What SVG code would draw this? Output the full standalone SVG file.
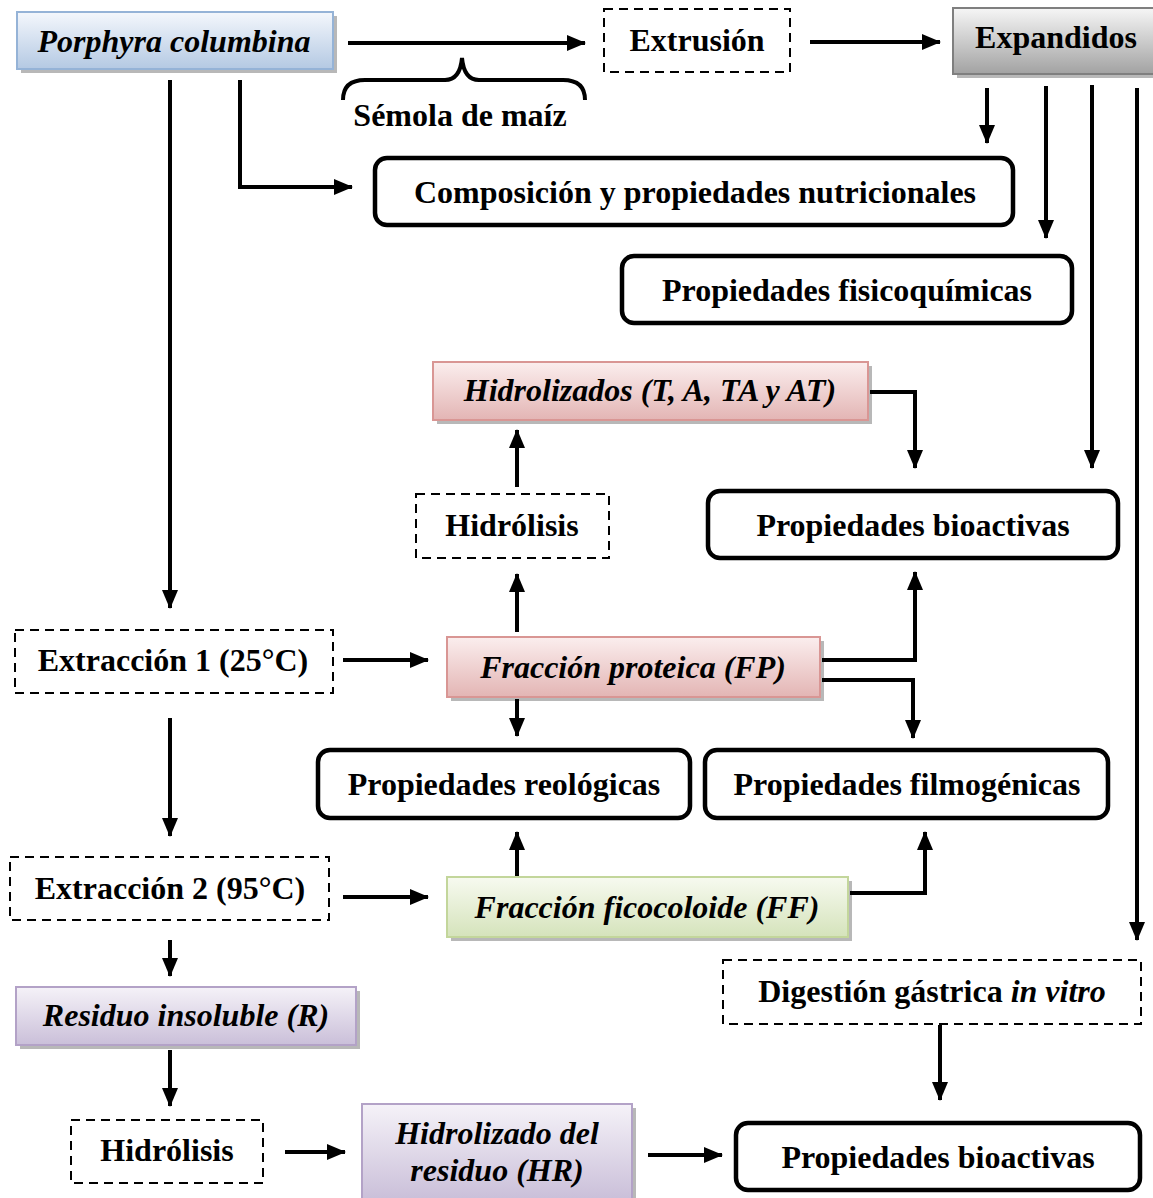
<svg xmlns="http://www.w3.org/2000/svg" width="1153" height="1198" viewBox="0 0 1153 1198">
<style>
text{font-family:"Liberation Serif","Times New Roman",serif;font-weight:bold;font-size:32px;fill:#000;text-anchor:middle}
.it{font-style:italic}
.dash{fill:#fff;stroke:#000;stroke-width:2;stroke-dasharray:9,6}
.round{fill:#fff;stroke:#000;stroke-width:4.5}
.c{fill:none;stroke:#000;stroke-width:4}
.sh{fill:#000;opacity:0.28}
</style>
<defs>
<marker id="ah" markerUnits="userSpaceOnUse" markerWidth="20" markerHeight="16" refX="18" refY="8" orient="auto">
<path d="M0,0 L19,8 L0,16 z" fill="#000"/>
</marker>
<linearGradient id="gBlue" x1="0" y1="0" x2="0" y2="1"><stop offset="0" stop-color="#f4f7fc"/><stop offset="1" stop-color="#b4c9e3"/></linearGradient>
<linearGradient id="gGrey" x1="0" y1="0" x2="0" y2="1"><stop offset="0" stop-color="#f6f6f6"/><stop offset="1" stop-color="#a2a2a2"/></linearGradient>
<linearGradient id="gPink" x1="0" y1="0" x2="0" y2="1"><stop offset="0" stop-color="#fbeeee"/><stop offset="1" stop-color="#e3b5b4"/></linearGradient>
<linearGradient id="gGreen" x1="0" y1="0" x2="0" y2="1"><stop offset="0" stop-color="#f7faf0"/><stop offset="1" stop-color="#d5e3bb"/></linearGradient>
<linearGradient id="gPurple" x1="0" y1="0" x2="0" y2="1"><stop offset="0" stop-color="#f5f2f8"/><stop offset="1" stop-color="#cabfd9"/></linearGradient>
</defs>

<g id="connectors">
<line class="c" x1="348" y1="43" x2="585" y2="43" marker-end="url(#ah)"/>
<path class="c" d="M343,100 Q343,80 365,80 L445,80 Q460,80 462,58 Q464,80 479,80 L563,80 Q585,80 585,100"/>
<line class="c" x1="810" y1="42" x2="940" y2="42" marker-end="url(#ah)"/>
<line class="c" x1="170" y1="80" x2="170" y2="608" marker-end="url(#ah)"/>
<polyline class="c" points="240,80 240,187 352,187" marker-end="url(#ah)"/>
<line class="c" x1="987" y1="88" x2="987" y2="143" marker-end="url(#ah)"/>
<line class="c" x1="1046" y1="86" x2="1046" y2="238" marker-end="url(#ah)"/>
<line class="c" x1="1092" y1="85" x2="1092" y2="468" marker-end="url(#ah)"/>
<line class="c" x1="1137" y1="88" x2="1137" y2="940" marker-end="url(#ah)"/>
<polyline class="c" points="870,392 915,392 915,468" marker-end="url(#ah)"/>
<line class="c" x1="517" y1="487" x2="517" y2="430" marker-end="url(#ah)"/>
<line class="c" x1="517" y1="632" x2="517" y2="574" marker-end="url(#ah)"/>
<line class="c" x1="343" y1="660" x2="428" y2="660" marker-end="url(#ah)"/>
<polyline class="c" points="822,660 915,660 915,572" marker-end="url(#ah)"/>
<polyline class="c" points="822,680 913,680 913,738" marker-end="url(#ah)"/>
<line class="c" x1="517" y1="699" x2="517" y2="736" marker-end="url(#ah)"/>
<line class="c" x1="170" y1="718" x2="170" y2="836" marker-end="url(#ah)"/>
<line class="c" x1="343" y1="897" x2="428" y2="897" marker-end="url(#ah)"/>
<line class="c" x1="517" y1="876" x2="517" y2="832" marker-end="url(#ah)"/>
<polyline class="c" points="850,893 925,893 925,832" marker-end="url(#ah)"/>
<line class="c" x1="170" y1="940" x2="170" y2="976" marker-end="url(#ah)"/>
<line class="c" x1="170" y1="1050" x2="170" y2="1106" marker-end="url(#ah)"/>
<line class="c" x1="285" y1="1152" x2="345" y2="1152" marker-end="url(#ah)"/>
<line class="c" x1="648" y1="1155" x2="722" y2="1155" marker-end="url(#ah)"/>
<line class="c" x1="940" y1="1025" x2="940" y2="1100" marker-end="url(#ah)"/>
</g>

<g id="porphyra">
<rect class="sh" x="21" y="16" width="316" height="57"/>
<rect x="17" y="12" width="316" height="57" fill="url(#gBlue)" stroke="#95b3d7" stroke-width="2"/>
<text class="it" x="174" y="52">Porphyra columbina</text>
</g>
<g id="semola"><text x="460" y="126">Sémola de maíz</text></g>
<g id="extrusion">
<rect class="dash" x="604" y="9" width="186" height="63"/>
<text x="697" y="51">Extrusión</text>
</g>
<g id="expandidos">
<rect class="sh" x="957" y="12" width="200" height="66"/>
<rect x="953" y="8" width="202" height="66" fill="url(#gGrey)" stroke="#7f7f7f" stroke-width="2"/>
<text x="1056" y="48">Expandidos</text>
</g>
<g id="composicion">
<rect class="round" x="375" y="158" width="638" height="67" rx="12"/>
<text x="695" y="203">Composición y propiedades nutricionales</text>
</g>
<g id="fisicoquimicas">
<rect class="round" x="622" y="256" width="450" height="67" rx="12"/>
<text x="847" y="301">Propiedades fisicoquímicas</text>
</g>
<g id="hidrolizados">
<rect class="sh" x="437" y="366" width="435" height="58"/>
<rect x="433" y="362" width="435" height="58" fill="url(#gPink)" stroke="#d99694" stroke-width="2"/>
<text class="it" x="650" y="401">Hidrolizados (T, A, TA y AT)</text>
</g>
<g id="hidrolisis1">
<rect class="dash" x="416" y="494" width="193" height="64"/>
<text x="512" y="536">Hidrólisis</text>
</g>
<g id="bioactivas1">
<rect class="round" x="708" y="491" width="410" height="67" rx="12"/>
<text x="913" y="536">Propiedades bioactivas</text>
</g>
<g id="extraccion1">
<rect class="dash" x="15" y="630" width="318" height="63"/>
<text x="173" y="671">Extracción 1 (25°C)</text>
</g>
<g id="fp">
<rect class="sh" x="451" y="641" width="373" height="60"/>
<rect x="447" y="637" width="373" height="60" fill="url(#gPink)" stroke="#d99694" stroke-width="2"/>
<text class="it" x="633" y="678">Fracción proteica (FP)</text>
</g>
<g id="reologicas">
<rect class="round" x="318" y="750" width="372" height="68" rx="12"/>
<text x="504" y="795">Propiedades reológicas</text>
</g>
<g id="filmogenicas">
<rect class="round" x="705" y="750" width="403" height="68" rx="12"/>
<text x="907" y="795">Propiedades filmogénicas</text>
</g>
<g id="extraccion2">
<rect class="dash" x="10" y="857" width="319" height="63"/>
<text x="170" y="899">Extracción 2 (95°C)</text>
</g>
<g id="ff">
<rect class="sh" x="451" y="881" width="401" height="60"/>
<rect x="447" y="877" width="401" height="60" fill="url(#gGreen)" stroke="#c3d69b" stroke-width="2"/>
<text class="it" x="647" y="918">Fracción ficocoloide (FF)</text>
</g>
<g id="residuo">
<rect class="sh" x="20" y="991" width="340" height="58"/>
<rect x="16" y="987" width="340" height="58" fill="url(#gPurple)" stroke="#b3a2c7" stroke-width="2"/>
<text class="it" x="186" y="1026">Residuo insoluble (R)</text>
</g>
<g id="hidrolisis2">
<rect class="dash" x="71" y="1120" width="192" height="63"/>
<text x="167" y="1161">Hidrólisis</text>
</g>
<g id="hr">
<rect class="sh" x="366" y="1108" width="270" height="94"/>
<rect x="362" y="1104" width="270" height="96" fill="url(#gPurple)" stroke="#b3a2c7" stroke-width="2"/>
<text class="it" x="497" y="1144">Hidrolizado del</text>
<text class="it" x="497" y="1181">residuo (HR)</text>
</g>
<g id="digestion">
<rect class="dash" x="723" y="960" width="418" height="64"/>
<text x="932" y="1002">Digestión gástrica <tspan class="it">in vitro</tspan></text>
</g>
<g id="bioactivas2">
<rect class="round" x="736" y="1123" width="404" height="67" rx="12"/>
<text x="938" y="1168">Propiedades bioactivas</text>
</g>
</svg>
